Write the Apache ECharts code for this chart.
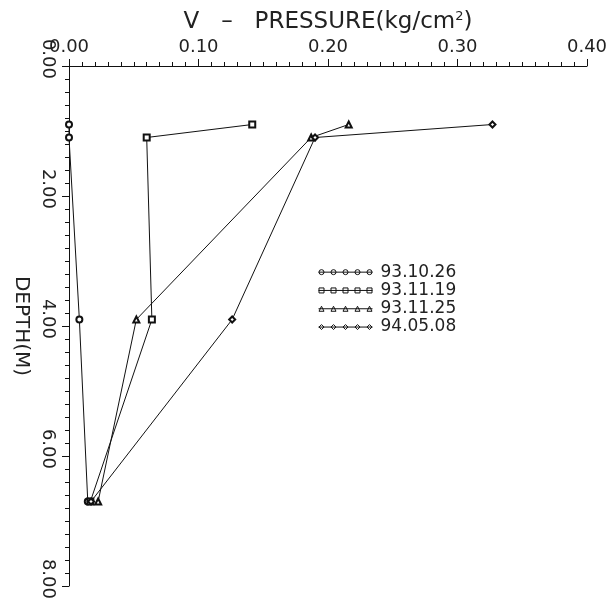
<!DOCTYPE html>
<html>
<head>
<meta charset="utf-8">
<script src="https://cdn.jsdelivr.net/npm/echarts@6/dist/echarts.min.js"></script>
<style>
  html, body { margin: 0; background: #fff; }
  #chart { width: 613px; height: 605px; }
</style>
</head>
<body>
<div id="chart"></div>
<script>
// survey dates (legend) and measured depths (m)
const dates = ['93.10.26', '93.11.19', '93.11.25', '94.05.08']
const depths = [0.9, 1.1, 3.9, 6.7]

// vertical pressure (kg/cm2) at each depth, one array per survey
const pres931026 = [0.000, 0.000, 0.008, 0.0145]
const pres931119 = [0.1415, 0.060, 0.064, 0.0165]
const pres931125 = [0.216, 0.187, 0.052, 0.0225]
const pres940508 = [0.327, 0.190, 0.126, 0.017]

const FONT = 'DejaVu Sans'
const INK = '#111'

// legend icons: a line with five small hollow markers
const centers = [3, 15, 27, 39, 51]
const circleIcon = 'path://M0 3H54' + centers.map(c => `M${c + 2.5} 3A2.5 2.5 0 1 1 ${c - 2.5} 3A2.5 2.5 0 1 1 ${c + 2.5} 3Z`).join('')
const rectIcon = 'path://M0 3H54' + centers.map(c => `M${c - 2.5} 0.5H${c + 2.5}V5.5H${c - 2.5}Z`).join('')
const triIcon = 'path://M0 3H54' + centers.map(c => `M${c} 0.5L${c + 2.5} 5.5H${c - 2.5}Z`).join('')
const diaIcon = 'path://M0 3H54' + centers.map(c => `M${c} 0.5L${c + 2.5} 3L${c} 5.5L${c - 2.5} 3Z`).join('')

const pairs = (xs) => xs.map((x, i) => [x, depths[i]])

const makeSeries = (name, values, symbol) => ({
  name: name,
  type: 'line',
  data: pairs(values),
  symbol: symbol,
  symbolSize: 6,
  itemStyle: { color: INK, borderWidth: 1 },
  lineStyle: { color: INK, width: 1 },
  z: 3
})

const chart = echarts.init(document.getElementById('chart'))

chart.setOption({
  animation: false,
  backgroundColor: '#fff',
  grid: { left: 69, right: 26, top: 66, bottom: 19, containLabel: false, outerBoundsMode: 'none' },
  legend: {
    orient: 'vertical',
    left: 313,
    top: 258,
    itemWidth: 54,
    itemHeight: 5,
    itemGap: 0,
    selectedMode: false,
    itemStyle: { color: '#fff', borderColor: INK, borderWidth: 1 },
    textStyle: { fontFamily: FONT, fontSize: 17, color: '#222', lineHeight: 18.3, padding: [0, 0, 0, 3] },
    data: [
      { name: dates[0], icon: circleIcon },
      { name: dates[1], icon: rectIcon },
      { name: dates[2], icon: triIcon },
      { name: dates[3], icon: diaIcon }
    ]
  },
  xAxis: {
    type: 'value',
    position: 'top',
    min: 0,
    max: 0.4,
    interval: 0.1,
    name: 'V   –   PRESSURE(kg/cm{sup|2})',
    nameLocation: 'middle',
    nameGap: 26,
    nameTextStyle: {
      fontFamily: FONT, fontSize: 23, color: '#222',
      rich: { sup: { fontFamily: FONT, fontSize: 13, color: '#222', verticalAlign: 'top' } }
    },
    axisLine: { onZero: false, lineStyle: { color: INK, width: 1 } },
    axisTick: { length: 7, lineStyle: { color: INK } },
    minorTick: { show: true, splitNumber: 10, length: 4, lineStyle: { color: INK } },
    splitLine: { show: false },
    axisLabel: {
      margin: 10,
      fontFamily: FONT, fontSize: 18, color: '#222',
      formatter: (v) => v.toFixed(2)
    }
  },
  yAxis: {
    type: 'value',
    inverse: true,
    min: 0,
    max: 8,
    interval: 2,
    name: 'DEPTH(M)',
    nameLocation: 'middle',
    nameRotate: -90,
    nameGap: 36,
    nameTextStyle: { fontFamily: FONT, fontSize: 20, color: '#222' },
    axisLine: { onZero: false, lineStyle: { color: INK, width: 1 } },
    axisTick: { length: 7, lineStyle: { color: INK } },
    minorTick: { show: true, splitNumber: 10, length: 4, lineStyle: { color: INK } },
    splitLine: { show: false },
    axisLabel: {
      rotate: -90,
      margin: 12,
      align: 'right',
      verticalAlign: 'top',
      padding: [0, -13, 0, 0],
      fontFamily: FONT, fontSize: 18, color: '#222',
      formatter: (v) => v.toFixed(2)
    }
  },
  series: [
    makeSeries(dates[0], pres931026, 'emptyCircle'),
    makeSeries(dates[1], pres931119, 'emptyRect'),
    makeSeries(dates[2], pres931125, 'emptyTriangle'),
    makeSeries(dates[3], pres940508, 'emptyDiamond')
  ]
})
</script>
</body>
</html>
